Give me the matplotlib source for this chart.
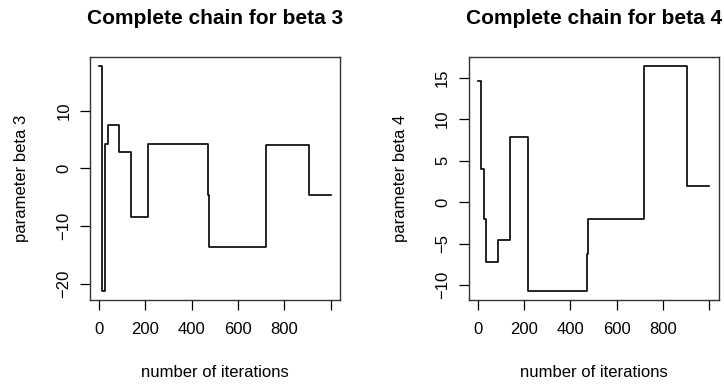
import numpy as np
import matplotlib
matplotlib.use('Agg')
import matplotlib.pyplot as plt

plt.rcParams['font.family'] = ['Liberation Sans', 'DejaVu Sans']

# iterations where the chain value changes, and the value from then on
beta3_iter = [1, 13, 26, 37, 88, 137, 213, 470, 476, 719, 906, 1000]
beta3_val = [17.8, -21.3, 4.3, 7.5, 2.8, -8.5, 4.3, -4.6, -13.6, 4.1, -4.6, -4.6]

beta4_iter = [1, 16, 27, 37, 88, 140, 215, 470, 477, 719, 905, 1000]
beta4_val = [14.6, 4.0, -2.0, -7.25, -4.6, 7.8, -10.7, -6.3, -2.0, 16.4, 1.95, 1.95]

x_ticks = [0, 200, 400, 600, 800, 1000]
x_ticklabels = ['0', '200', '400', '600', '800', '']
beta3_yticks = [-20, -10, 0, 10]
beta4_yticks = [-10, -5, 0, 5, 10, 15]

fig = plt.figure(figsize=(7.24, 3.89), dpi=100)
ax1 = fig.add_axes([90 / 724, 89 / 389, 250 / 724, 243 / 389])
ax2 = fig.add_axes([468.7 / 724, 89 / 389, 250 / 724, 243 / 389])

panels = [
    (ax1, beta3_iter, beta3_val, beta3_yticks, '3'),
    (ax2, beta4_iter, beta4_val, beta4_yticks, '4'),
]

for ax, it, val, yt, k in panels:
    ax.plot(it, val, drawstyle='steps-post', color='black', lw=1.2)
    ax.margins(x=0.04, y=0.04)
    ax.set_xticks(x_ticks)
    ax.set_xticklabels(x_ticklabels)
    ax.set_yticks(yt)
    ax.tick_params(direction='out', length=7.2, width=0.9, labelsize=12,
                   colors='black')
    ax.tick_params(axis='x', pad=9)
    ax.tick_params(axis='y', pad=6.3)
    plt.setp(ax.get_yticklabels(), rotation=90, va='center')
    for s in ax.spines.values():
        s.set_linewidth(1.0)
        s.set_color('#333333')
    ax.set_title('Complete chain for beta ' + k, fontsize=15,
                 fontweight='bold', pad=24)
    ax.set_xlabel('number of iterations', fontsize=12)
    ax.set_ylabel('parameter beta ' + k, fontsize=12)
    ax.xaxis.set_label_coords(0.5, -0.267)
    ax.yaxis.set_label_coords(-0.244, 0.5)

fig.savefig('out.png', dpi=100)
